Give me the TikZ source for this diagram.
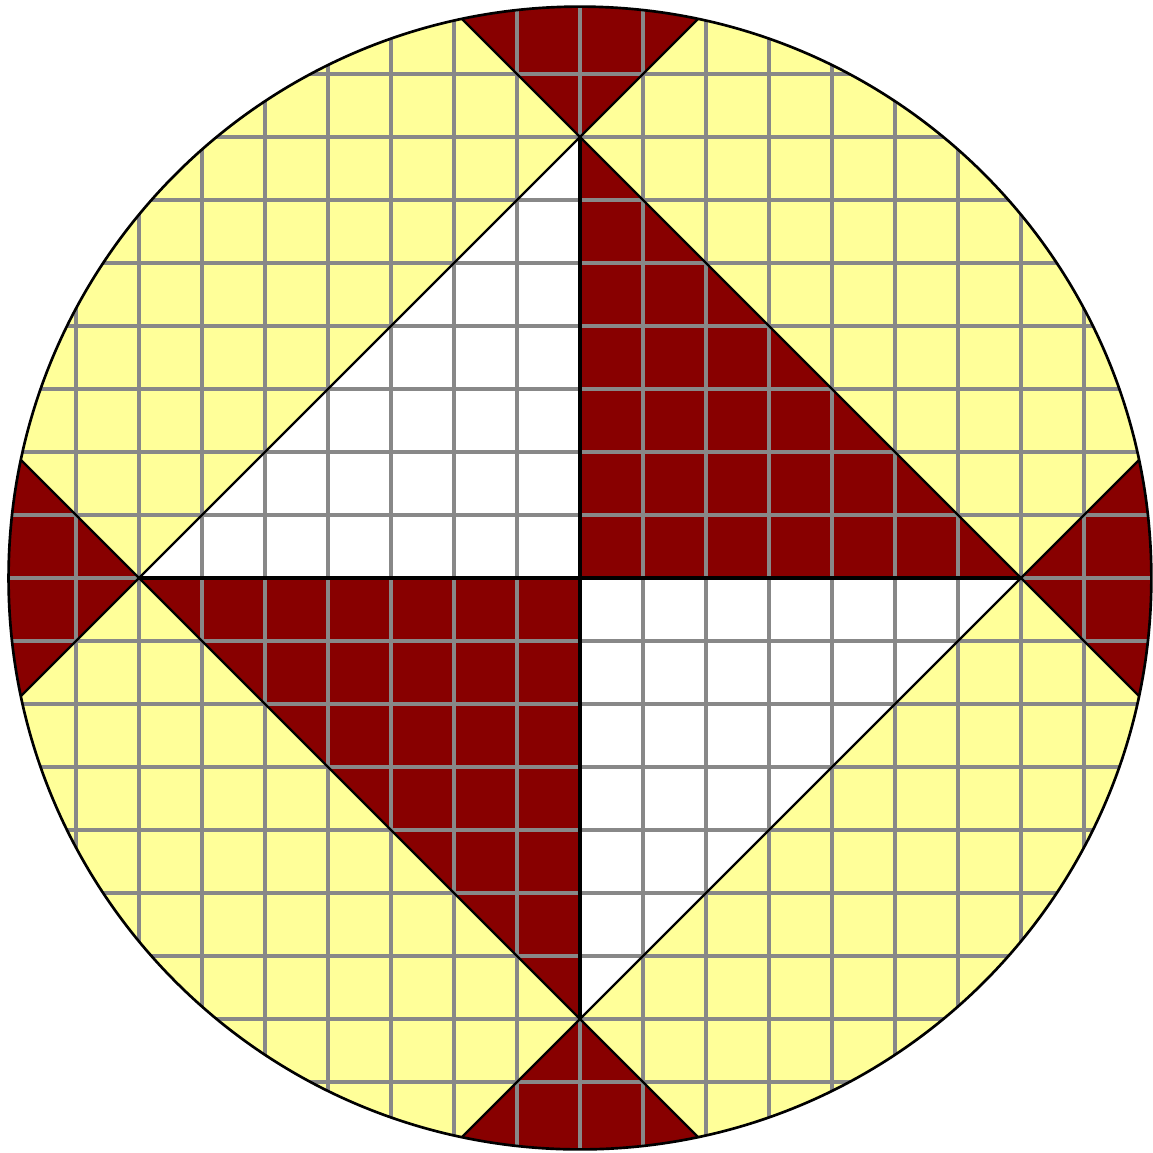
\documentclass[tikz,border=0pt]{standalone}
\definecolor{dred}{RGB}{136,0,0}
\definecolor{lyellow}{RGB}{255,255,153}
\definecolor{gridgray}{RGB}{136,136,136}
\begin{document}
\begin{tikzpicture}[x=1cm,y=1cm,
  gridline/.style={draw=gridgray,line width=1.8pt},
  axisline/.style={draw=black,line width=2.1pt},
  diagline/.style={draw=black,line width=1pt},
  rim/.style={draw=black,line width=1.2pt},
  redfill/.style={fill=dred},
  whitefill/.style={fill=white}]
\useasboundingbox (-9.206,-9.127) rectangle (9.095,9.175);
\def\Rad{9.07}
\coordinate (O) at (0,0);
\coordinate (T) at (0,7);
\coordinate (B) at (0,-7);
\coordinate (L) at (-7,0);
\coordinate (R) at (7,0);
\coordinate (TL) at (-4,11);
\coordinate (TR) at (4,11);
\coordinate (BL) at (-4,-11);
\coordinate (BR) at (4,-11);
\coordinate (LU) at (-11,4);
\coordinate (LD) at (-11,-4);
\coordinate (RU) at (11,4);
\coordinate (RD) at (11,-4);
\begin{scope}
  \clip (O) circle (\Rad);
  \fill[lyellow] (O) circle (\Rad);
  \fill[whitefill] (L) -- (O) -- (T) -- cycle;
  \fill[whitefill] (O) -- (R) -- (B) -- cycle;
  \fill[redfill] (T) -- (O) -- (R) -- cycle;
  \fill[redfill] (L) -- (O) -- (B) -- cycle;
  \fill[redfill] (T) -- (TL) -- (TR) -- cycle;
  \fill[redfill] (B) -- (BL) -- (BR) -- cycle;
  \fill[redfill] (R) -- (RU) -- (RD) -- cycle;
  \fill[redfill] (L) -- (LU) -- (LD) -- cycle;
  \foreach \i in {-8,...,8} {
    \draw[gridline] (\i,-10) -- (\i,10);
    \draw[gridline] (-10,\i) -- (10,\i);
  }
  \draw[diagline] (LD) -- (TR);
  \draw[diagline] (TL) -- (RD);
  \draw[diagline] (LU) -- (BR);
  \draw[diagline] (BL) -- (RU);
\end{scope}
\draw[axisline] (T) -- (B);
\draw[axisline] (L) -- (R);
\draw[rim] (O) circle (\Rad);
\end{tikzpicture}
\end{document}
